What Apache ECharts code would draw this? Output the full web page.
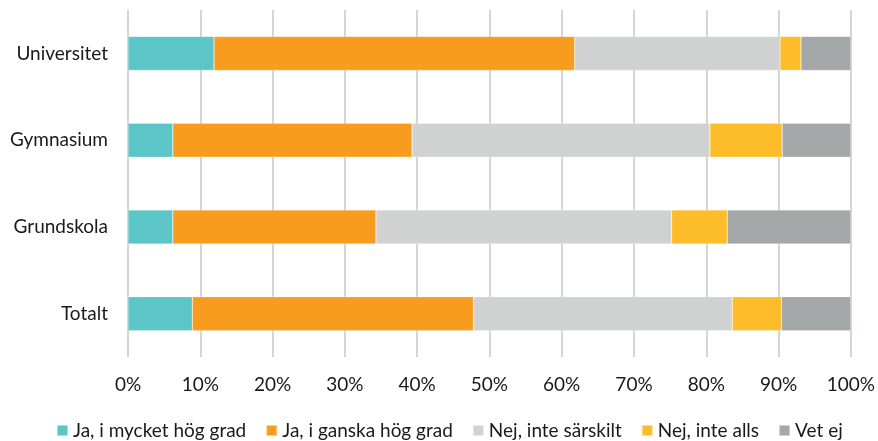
<!DOCTYPE html>
<html><head><meta charset="utf-8">
<script src="https://cdn.jsdelivr.net/npm/echarts@6/dist/echarts.min.js"></script>
<style>html,body{margin:0;padding:0;background:#fff;overflow:hidden}#c{width:878px;height:441px}</style>
</head><body><div id="c"></div>
<script>
const categories = ['Universitet', 'Gymnasium', 'Grundskola', 'Totalt'];
const seriesNames = ['Ja, i mycket hög grad', 'Ja, i ganska hög grad', 'Nej, inte särskilt', 'Nej, inte alls', 'Vet ej'];
const jaMycket = [11.9, 6.2, 6.2, 8.9];
const jaGanska = [49.9, 33.1, 28.1, 38.9];
const nejSarskilt = [28.4, 41.2, 40.9, 35.8];
const nejAlls = [2.9, 10.0, 7.7, 6.8];
const vetEj = [6.9, 9.5, 17.1, 9.6];
const xTicks = [0, 10, 20, 30, 40, 50, 60, 70, 80, 90, 100];
const colors = ['#5BC5C8', '#F89C20', '#D0D2D1', '#FDBD2A', '#A3A7A8'];
const values = [jaMycket, jaGanska, nejSarskilt, nejAlls, vetEj];
const font = 'Lato';
const chart = echarts.init(document.getElementById('c'), null, {renderer: 'canvas'});
chart.setOption({
  animation: false,
  color: colors,
  grid: {left: 128, right: 24, top: 10, bottom: 84, containLabel: false},
  legend: {
    top: 416, left: 51, itemWidth: 11, itemHeight: 11, itemGap: 19,
    icon: 'rect',
    textStyle: {fontFamily: font, fontSize: 19, color: '#1a1a1a'},
    data: seriesNames
  },
  xAxis: {
    type: 'value', min: xTicks[0], max: xTicks[xTicks.length - 1], interval: 10,
    axisLabel: {formatter: v => v + '%', fontFamily: font, fontSize: 19, color: '#1a1a1a', margin: 18},
    axisLine: {show: false}, axisTick: {show: false},
    splitLine: {lineStyle: {color: '#D5D5D5', width: 2}}
  },
  yAxis: {
    type: 'category', data: categories, inverse: true,
    axisLabel: {fontFamily: font, fontSize: 19, color: '#1a1a1a', margin: 20},
    axisLine: {show: false}, axisTick: {show: false}
  },
  series: seriesNames.map((n, i) => ({
    name: n, type: 'bar', stack: 'all', barWidth: 34,
    itemStyle: {borderColor: 'rgba(255,255,255,0.5)', borderWidth: 0.5},
    data: values[i]
  }))
});
</script></body></html>
